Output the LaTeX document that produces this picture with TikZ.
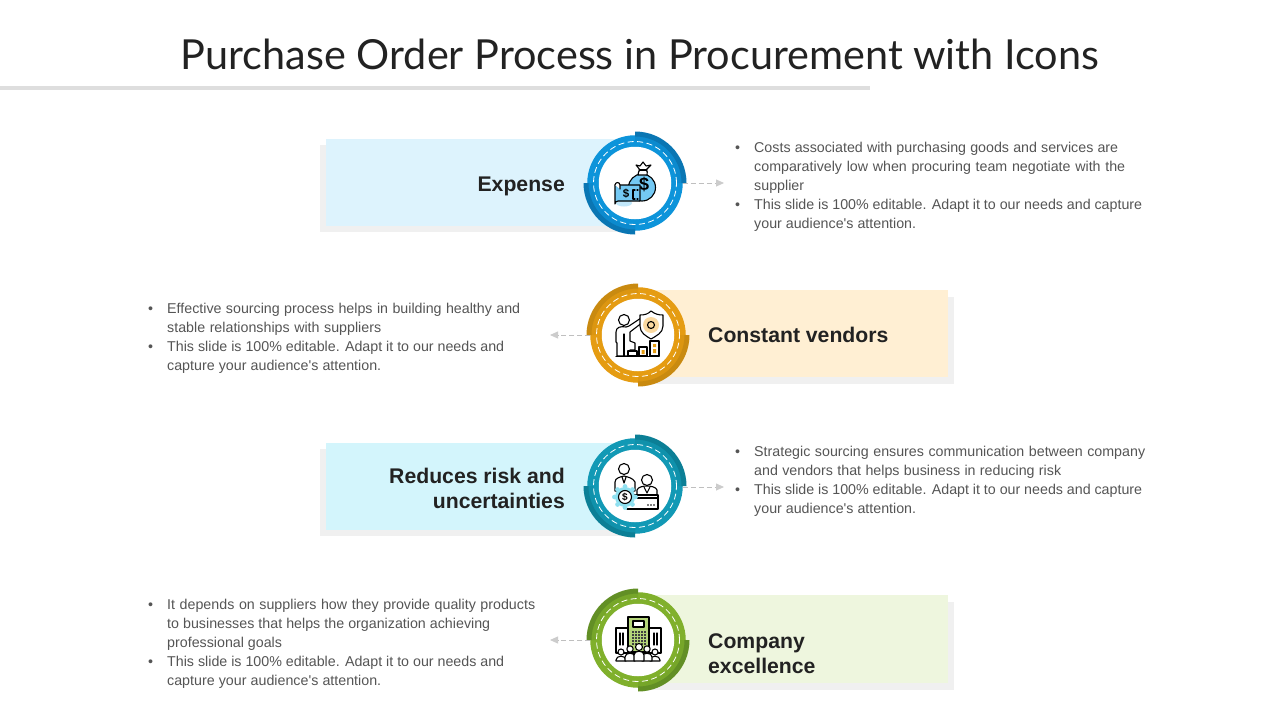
\documentclass[tikz,border=0pt]{standalone}
\usepackage{fontspec}
\setmainfont{Liberation Sans}[Ligatures=TeXOff]
\newfontfamily\titlefont{Lato}
\usetikzlibrary{arrows.meta,calc}
\definecolor{inkdark}{HTML}{222222}
\definecolor{bodygrey}{HTML}{555555}
\definecolor{shadowgrey}{HTML}{F0F0F0}
\definecolor{blueA}{HTML}{0D94DA}\definecolor{blueB}{HTML}{0A76B3}\definecolor{blueC}{HTML}{DDF3FD}\definecolor{blueD}{HTML}{74C9F4}
\definecolor{amberA}{HTML}{E59C12}\definecolor{amberB}{HTML}{C98A10}\definecolor{amberC}{HTML}{FFEFD3}\definecolor{amberD}{HTML}{FBD9A0}
\definecolor{tealA}{HTML}{1299B5}\definecolor{tealB}{HTML}{0C7F96}\definecolor{tealC}{HTML}{D3F5FC}\definecolor{tealD}{HTML}{8FE0F0}
\definecolor{leafA}{HTML}{80B02C}\definecolor{leafB}{HTML}{628F25}\definecolor{leafC}{HTML}{EEF6DE}\definecolor{leafD}{HTML}{B5D67A}
\newcommand{\txtln}[2]{\makebox[#1pt][s]{#2}}
\newcommand{\bl}{\makebox[19pt][l]{•}}
\newcommand{\ind}{\hspace*{19pt}}
\tikzset{
  titletext/.style={font=\titlefont\fontsize{41.4}{48}\selectfont,text=inkdark,inner sep=0pt},
  headtext/.style={font=\bfseries\fontsize{21.2}{25}\selectfont,text=inkdark,inner sep=0pt},
  bodytext/.style={font=\fontsize{14.25}{19}\selectfont,text=bodygrey,inner sep=0pt,align=left,anchor=west},
  ringbase/.style={circle,inner sep=0pt,minimum size=95.5pt},
  centredisc/.style={circle,inner sep=0pt,minimum size=72.5pt,fill=white},
  flow/.style={draw=black!25,line width=0.8pt,dash pattern=on 5pt off 3pt,-{Triangle[length=8pt,width=7pt,color=black!20,fill=black!20]}},
  icon/.style={draw=black,line width=1.1pt,line join=round,line cap=round},
  dashring/.style={draw=white,line width=0.8pt,dash pattern=on 6pt off 3.5pt}
}
% #1 name #2 x #3 y #4 main #5 dark #6 #7 start angles of the two arcs
\newcommand{\ringunit}[7]{%
  \node[ringbase,fill=#4] (#1) at (#2,#3) {};
  \foreach \a in {#6,#7}{%
    \fill[#5,opacity=0.3] ($(#2,#3)+(\a:47.5pt)$) arc[start angle=\a,delta angle=90,radius=47.5pt]
      -- ($(#2,#3)+(\a+90:42pt)$) arc[start angle=\a+90,delta angle=-90,radius=42pt] -- cycle;
    \fill[#5] ($(#2,#3)+(\a:51.5pt)$) arc[start angle=\a,delta angle=90,radius=51.5pt]
      -- ($(#2,#3)+(\a+90:46.5pt)$) arc[start angle=\a+90,delta angle=-90,radius=46.5pt] -- cycle;
  }
  \draw[dashring] (#2,#3) circle[radius=41.5pt];
  \node[centredisc] (#1in) at (#2,#3) {};
}
\begin{document}
\begin{tikzpicture}[x=1pt,y=-1pt]
\useasboundingbox (0,0) rectangle (1280,720);
\fill[white] (0,0) rectangle (1280,720);
\node[titletext] (title) at (640,54.5) {Purchase Order Process in Procurement with Icons};
\fill[black!13] (0,86) rectangle (870,90);

% panels
\fill[shadowgrey] (320,145) rectangle (620,232);
\fill[blueC] (326,139) rectangle (620,226);
\fill[shadowgrey] (650,297) rectangle (954,384);
\fill[amberC] (650,290) rectangle (948,377);
\fill[shadowgrey] (320,449) rectangle (620,536);
\fill[tealC] (326,443) rectangle (620,530);
\fill[shadowgrey] (650,602) rectangle (954,690);
\fill[leafC] (650,595) rectangle (948,683);

% rings
\ringunit{ra}{635}{183}{blueA}{blueB}{0}{180}
\ringunit{rb}{638}{335}{amberA}{amberB}{90}{270}
\ringunit{rc}{635}{486}{tealA}{tealB}{0}{180}
\ringunit{rd}{638}{640}{leafA}{leafB}{90}{270}

% headings
\node[headtext,anchor=east] (ha) at (565,186.5) {Expense};
\node[headtext,anchor=west] (hb) at (708,335) {Constant vendors};
\node[headtext,anchor=east,align=right] (hc) at (565,488.5) {Reduces risk and\\uncertainties};
\node[headtext,anchor=west,align=left] (hd) at (708,653.5) {Company\\excellence};

% body texts
\node[bodytext] (ta) at (735,186.5) {\bl\txtln{364}{Costs associated with purchasing goods and services are}\\
\ind\txtln{371}{comparatively low when procuring team negotiate with the}\\
\ind supplier\\
\bl\txtln{388}{This slide is 100\% editable. Adapt it to our needs and capture}\\
\ind your audience's attention.};
\node[bodytext] (tb) at (148,338) {\bl\txtln{353}{Effective sourcing process helps in building healthy and}\\
\ind\txtln{214}{stable relationships with suppliers}\\
\bl\txtln{337}{This slide is 100\% editable. Adapt it to our needs and}\\
\ind\txtln{214}{capture your audience's attention.}};
\node[bodytext] (tc) at (735,481) {\bl\txtln{391}{Strategic sourcing ensures communication between company}\\
\ind\txtln{307}{and vendors that helps business in reducing risk}\\
\bl\txtln{388}{This slide is 100\% editable. Adapt it to our needs and capture}\\
\ind your audience's attention.};
\node[bodytext] (td) at (148,643.5) {\bl\txtln{368}{It depends on suppliers how they provide quality products}\\
\ind\txtln{323}{to businesses that helps the organization achieving}\\
\ind professional goals\\
\bl\txtln{337}{This slide is 100\% editable. Adapt it to our needs and}\\
\ind\txtln{214}{capture your audience's attention.}};

% connectors
\coordinate (ea) at (724,183);
\coordinate (eb) at (550,335);
\coordinate (ec) at (724,487);
\coordinate (ed) at (550,640);
\draw[flow] (ra.east |- ea) -- (ea);
\draw[flow] (rb.west |- eb) -- (eb);
\draw[flow] (rc.east |- ec) -- (ec);
\draw[flow] (rd.west |- ed) -- (ed);

% icon 1: money bag and note
\begin{scope}[shift={(635,183)}]
  \fill[blueD!45] (-11,20) ellipse[x radius=8pt,y radius=3.5pt];
  \draw[icon,fill=blueD] (7,4.5) circle[radius=13.5pt];
  \draw[icon,fill=white] (3,-8) .. controls (3,-11) and (4,-12) .. (5,-13) -- (1,-18) -- (5,-17) -- (8,-21) -- (11,-17) -- (16,-18) -- (11,-13) .. controls (12,-12) and (13,-11) .. (12,-8) -- cycle;
  \draw[icon] (4,-13) -- (12,-13);
  \node[font=\bfseries\fontsize{18}{18}\selectfont,inner sep=0pt] (bagS) at (9,1) {\$};
  \draw[icon,fill=blueD] (-20,2) -- (5,2) -- (5,18) -- (-17,18) arc[start angle=90,end angle=180,radius=3pt] -- cycle;
  \draw[icon,fill=white] (-20,2) arc[start angle=180,end angle=0,radius=2.5pt] -- (-15,6);
  \node[font=\bfseries\fontsize{11.5}{11.5}\selectfont,inner sep=0pt] (noteS) at (-9,11) {\$};
  \draw[icon] (0,7) -- (-2,7) -- (-2,16) -- (0,16) (2,7) -- (3,7) (2,16) -- (3,16);
\end{scope}

% icon 2: person and shield
\begin{scope}[shift={(638,335)}]
  \draw[icon,fill=white] (-14,-15) circle[radius=5.5pt];
  \draw[icon,fill=white] (-22,7) -- (-22,-3) .. controls (-22,-8) and (-17,-9) .. (-12,-8) -- (-9,-9) -- (3,-17) -- (5,-13) -- (-8,-3) -- (-8,6) -- (-3,8) -- (-3,15) -- (-8,15) -- (-8,21) -- (-21,21) -- (-21,8) -- cycle;
  \draw[icon] (-14,-1) -- (-14,21);
  \draw[icon,fill=white] (13,-24) .. controls (17,-21) and (20,-20) .. (25,-20) -- (25,-9) .. controls (25,-2) and (18,1) .. (13,4) .. controls (8,1) and (2,-2) .. (2,-9) -- (2,-20) .. controls (7,-20) and (10,-21) .. (13,-24) -- cycle;
  \fill[amberD] (13,-10) circle[radius=8pt];
  \draw[icon] (13,-10) circle[radius=3.5pt];
  \draw[icon,fill=white] (-10,16) rectangle (-1,21);
  \draw[icon,fill=white] (1,12) rectangle (9,21);
  \draw[icon,fill=white] (12,6) rectangle (21,21);
  \draw[icon] (-22,21.5) -- (21,21.5);
  \fill[amberA] (15,9) rectangle (18,12) (15,14) rectangle (18,18) (3.5,15) rectangle (6.5,19);
\end{scope}

% icon 3: two people, desk and gear
\begin{scope}[shift={(635,486)}]
  \draw[icon,fill=white] (-11,-17) circle[radius=5.5pt];
  \draw[icon,fill=white] (-20,5) -- (-20,-4) .. controls (-20,-8) and (-15,-9) .. (-11,-10) .. controls (-7,-9) and (-2,-8) .. (0,-4) -- (0,5) -- cycle;
  \draw[icon] (-13,-9) -- (-11,-3) -- (-9,-9);
  \draw[icon,fill=white] (12,-6) circle[radius=5.5pt];
  \draw[icon,fill=white] (2,9) -- (2,4) .. controls (3,1) and (8,0) .. (12,0) .. controls (16,0) and (21,1) .. (22,4) -- (22,9) -- cycle;
  \draw[icon] (9,1) -- (12,7) -- (15,1);
  \draw[icon,fill=white] (-8,9) -- (23,9) -- (23,23) -- (-8,23);
  \draw[icon] (-8,12) -- (23,12);
  \fill (13,19) circle[radius=0.9pt] (16,19) circle[radius=0.9pt] (19,19) circle[radius=0.9pt];
  \foreach \g in {0,45,...,315}{\fill[tealD] ($(-10,11)+(\g:10.5pt)$) circle[radius=2.4pt];}
  \fill[tealD] (-10,11) circle[radius=10pt];
  \draw[icon,fill=white] (-10,11) circle[radius=6.5pt];
  \node[font=\bfseries\fontsize{10}{10}\selectfont,inner sep=0pt] (gearS) at (-10,11) {\$};
\end{scope}

% icon 4: buildings and people
\begin{scope}[shift={(638,640)}]
  \draw[icon,fill=white] (-22,-12) rectangle (23,13);
  \draw[icon] (-18,-7) -- (-18,5) (-15,-7) -- (-15,5) (19,-7) -- (19,5) (16,-7) -- (16,5);
  \draw[icon,fill=leafD] (-10,-23) rectangle (11,12);
  \draw[icon,fill=white] (-5,-19) rectangle (6,-13);
  \foreach \u in {-6,-3,...,6}{\foreach \v in {-9,-6,...,3}{\fill[black!75] (\u,\v) rectangle +(1.6,1.6);}}
  \foreach \u/\v/\s in {-17/12/3,17/12/3,-8/9/3.2,9/9/3.2,1/7/3.5}{
    \draw[icon,fill=white] (\u,\v) circle[radius=\s pt];
    \draw[icon,fill=white] (\u-5,21) -- (\u-5,\v+8) .. controls (\u-5,\v+3) and (\u+5,\v+3) .. (\u+5,\v+8) -- (\u+5,21) -- cycle;
  }
\end{scope}
\end{tikzpicture}
\end{document}
